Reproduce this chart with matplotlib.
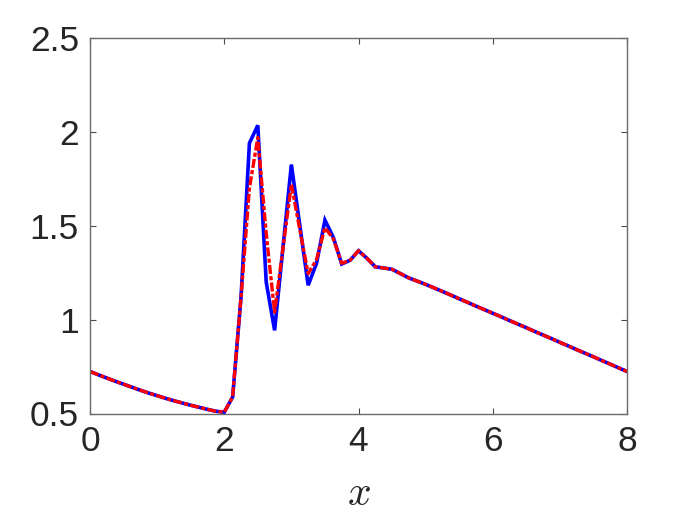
import numpy as np
import matplotlib
matplotlib.use("Agg")
import matplotlib.pyplot as plt

x = [0.000, 0.125, 0.250, 0.375, 0.500, 0.625, 0.750, 0.875,
     1.000, 1.125, 1.250, 1.375, 1.500, 1.625, 1.750, 1.875,
     2.000, 2.125, 2.250, 2.375, 2.500, 2.625, 2.750, 2.875,
     3.000, 3.125, 3.250, 3.375, 3.500, 3.625, 3.750, 3.875,
     4.000, 4.125, 4.250, 4.375, 4.500, 4.625, 4.750, 4.875,
     5.000, 5.125, 5.250, 5.375, 5.500, 5.625, 5.750, 5.875,
     6.000, 6.125, 6.250, 6.375, 6.500, 6.625, 6.750, 6.875,
     7.000, 7.125, 7.250, 7.375, 7.500, 7.625, 7.750, 7.875,
     8.000]

blue = [0.724, 0.706, 0.689, 0.672, 0.656, 0.640, 0.624, 0.609,
        0.595, 0.581, 0.568, 0.556, 0.544, 0.533, 0.522, 0.512,
        0.507, 0.588, 1.120, 1.940, 2.035, 1.200, 0.943, 1.385,
        1.826, 1.504, 1.183, 1.300, 1.530, 1.438, 1.296, 1.316,
        1.367, 1.327, 1.281, 1.275, 1.268, 1.245, 1.222, 1.205,
        1.188, 1.169, 1.150, 1.131, 1.111, 1.092, 1.072, 1.053,
        1.034, 1.015, 0.995, 0.976, 0.957, 0.937, 0.918, 0.899,
        0.879, 0.860, 0.840, 0.821, 0.802, 0.782, 0.763, 0.743,
        0.724]

red = [0.724, 0.706, 0.689, 0.672, 0.656, 0.640, 0.624, 0.609,
       0.595, 0.581, 0.568, 0.556, 0.544, 0.533, 0.522, 0.512,
       0.507, 0.588, 1.120, 1.700, 1.970, 1.460, 1.040, 1.380,
       1.720, 1.480, 1.245, 1.320, 1.490, 1.430, 1.300, 1.316,
       1.367, 1.327, 1.281, 1.275, 1.268, 1.245, 1.222, 1.205,
       1.188, 1.169, 1.150, 1.131, 1.111, 1.092, 1.072, 1.053,
       1.034, 1.015, 0.995, 0.976, 0.957, 0.937, 0.918, 0.899,
       0.879, 0.860, 0.840, 0.821, 0.802, 0.782, 0.763, 0.743,
       0.724]

xticks = [0, 2, 4, 6, 8]
yticks = [0.5, 1.0, 1.5, 2.0, 2.5]
yticklabels = ["0.5", "1", "1.5", "2", "2.5"]

plt.rcParams['font.family'] = ['Liberation Sans', 'DejaVu Sans']
plt.rcParams['mathtext.fontset'] = 'cm'
plt.rcParams['lines.scale_dashes'] = False

W, H = 692, 519
fig = plt.figure(figsize=(W / 100, H / 100), dpi=100)
ax = fig.add_axes([90 / W, 1 - 413.5 / H, (627 - 90) / W, (413.5 - 38) / H])

ax.plot(x, blue, color='#0000ff', lw=2.6, solid_joinstyle='miter')
ax.plot(x, red, color='#ff0000', lw=2.4, linestyle=(0, (6.5, 1.6, 3.0, 1.6)))

ax.set_xlim(0, 8)
ax.set_ylim(0.5, 2.5)
ax.set_xticks(xticks)
ax.set_xticklabels([str(v) for v in xticks])
ax.set_yticks(yticks)
ax.set_yticklabels(yticklabels)

txtc = '#262626'
for s in ax.spines.values():
    s.set_color('#6a6a6a')
    s.set_linewidth(1.0)
ax.tick_params(direction='in', length=4.5, width=0.8, colors='#4a4a4a',
               labelcolor=txtc, labelsize=25.5, top=True, right=True, pad=8)
ax.set_xlabel(r'$x$', fontsize=30, color=txtc, labelpad=12)

fig.savefig('out.png', dpi=100)
